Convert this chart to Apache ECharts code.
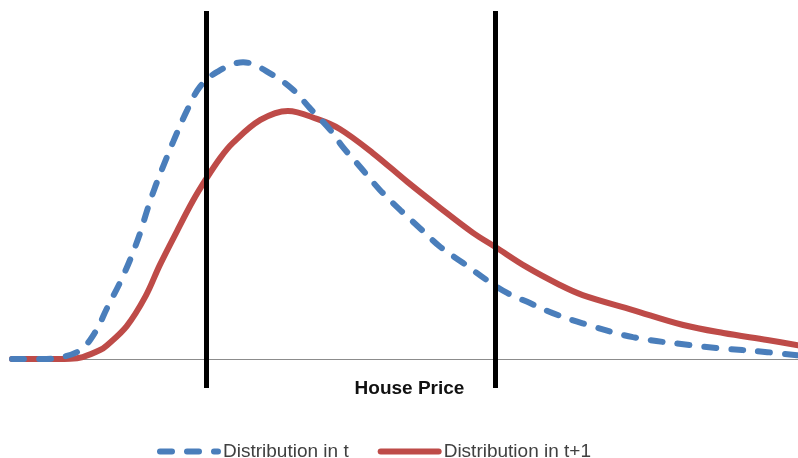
<!DOCTYPE html>
<html>
<head>
<meta charset="utf-8">
<script src="https://cdn.jsdelivr.net/npm/echarts@6/dist/echarts.min.js"></script>
<style>
  html, body { margin: 0; padding: 0; background: #fff; }
  #chart { width: 798px; height: 458px; }
</style>
</head>
<body>
<div id="chart"></div>
<script>
// House price densities (price on 0-100 scale, density in relative units)
const seriesNames = ['Distribution in t', 'Distribution in t+1'];

const priceT = [0.0, 3.6, 5.7, 8.7, 10.6, 12.1, 13.7, 15.0, 16.3, 17.2, 18.2, 19.5, 20.5, 22.3, 23.9, 26.1, 29.4, 33.2, 35.8, 37.9, 40.5, 42.1, 44.3, 46.8, 49.4, 51.9, 54.5, 57.4, 60.4, 63.0, 65.9, 68.8, 72.6, 79.0, 86.3, 89.7, 96.1, 99.9];
const densityT = [0.0, 0.0, 0.3, 2.6, 7.8, 14.7, 21.8, 28.4, 36.2, 42.8, 49.4, 56.9, 62.4, 71.6, 78.2, 82.5, 85.3, 81.6, 77.3, 72.1, 65.8, 60.9, 55.2, 48.6, 42.8, 37.6, 32.2, 27.6, 22.7, 19.0, 16.1, 13.2, 10.3, 6.3, 4.0, 3.2, 2.0, 1.1];

const priceT1 = [0.0, 3.6, 7.4, 9.0, 11.2, 12.1, 14.6, 17.0, 18.8, 21.0, 23.0, 24.6, 26.5, 28.1, 31.6, 35.1, 38.8, 41.7, 45.9, 50.3, 54.5, 58.7, 61.5, 65.5, 69.7, 72.6, 79.0, 85.4, 90.5, 96.1, 100.0];
const densityT1 = [0.0, 0.0, 0.1, 0.6, 2.6, 4.0, 9.5, 18.1, 27.0, 36.8, 45.4, 51.4, 57.8, 62.1, 68.7, 71.3, 69.0, 66.1, 59.2, 50.9, 43.4, 36.2, 32.2, 26.4, 21.3, 18.4, 14.1, 9.8, 7.5, 5.5, 4.0];

// Price thresholds marked by vertical lines
const thresholds = [24.7, 61.5];

const axisTitle = 'House Price';

const zip = (xs, ys) => xs.map((x, i) => [x, ys[i]]);

const chart = echarts.init(document.getElementById('chart'), null, { renderer: 'canvas' });

chart.setOption({
  animation: false,
  backgroundColor: '#ffffff',
  grid: { left: 12, right: 0, top: 11, bottom: 70 },
  xAxis: {
    type: 'value',
    min: 0,
    max: 100,
    name: axisTitle,
    nameLocation: 'middle',
    nameGap: -9,
    nameTextStyle: {
      fontFamily: 'Liberation Sans',
      fontWeight: 'bold',
      fontSize: 19,
      color: '#111111',
      padding: [0, 0, 0, 9]
    },
    axisLine: { show: true, onZero: true, lineStyle: { color: '#8c8c8c', width: 1 } },
    axisTick: { show: false },
    axisLabel: { show: false },
    splitLine: { show: false }
  },
  yAxis: {
    type: 'value',
    min: -8.3,
    max: 100,
    show: false,
    splitLine: { show: false }
  },
  legend: {
    data: seriesNames,
    left: 157,
    top: 442,
    padding: 0,
    itemWidth: 58,
    itemHeight: 14,
    itemGap: 29,
    itemStyle: { opacity: 0 },
    lineStyle: { width: 6, cap: 'round' },
    textStyle: {
      fontFamily: 'Liberation Sans',
      fontSize: 19,
      color: '#404040'
    }
  },
  series: [
    {
      name: seriesNames[0],
      type: 'line',
      data: zip(priceT, densityT),
      smooth: 0.35,
      symbol: 'none',
      color: '#4a7ebb',
      lineStyle: { color: '#4a7ebb', width: 6, type: [12, 15], cap: 'round' },
      z: 3
    },
    {
      name: seriesNames[1],
      type: 'line',
      data: zip(priceT1, densityT1),
      smooth: 0.35,
      symbol: 'none',
      color: '#be4b48',
      lineStyle: { color: '#be4b48', width: 6, cap: 'round' },
      z: 2,
      markLine: {
        silent: true,
        symbol: 'none',
        label: { show: false },
        lineStyle: { color: '#000000', width: 5, type: 'solid' },
        data: thresholds.map(v => ({ xAxis: v }))
      }
    }
  ]
});
</script>
</body>
</html>
